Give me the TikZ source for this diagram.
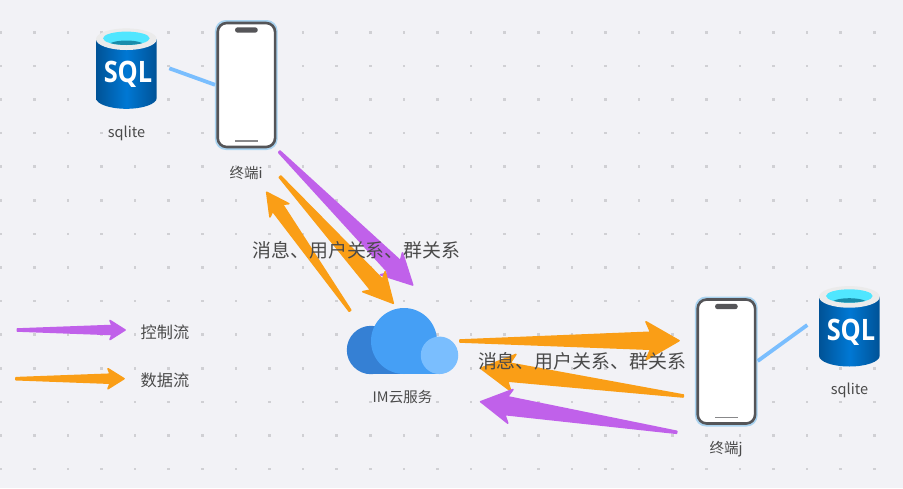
\documentclass[tikz,border=0pt]{standalone}
\usepackage{fontspec}
\setmainfont{Noto Sans CJK SC}
\newfontfamily\sqlfont{Open Sans}
\usetikzlibrary{calc}
\definecolor{bgc}{HTML}{F2F2F6}
\definecolor{dotc}{HTML}{D0D0D4}
\definecolor{purp}{HTML}{C061EA}
\definecolor{oran}{HTML}{FA9E16}
\definecolor{linkc}{HTML}{7ABEFE}
\definecolor{txtc}{HTML}{4A4A4A}
\definecolor{phonec}{HTML}{555558}
\definecolor{halo}{HTML}{A9D3F0}
\definecolor{clouda}{HTML}{3580D4}
\definecolor{cloudb}{HTML}{459FF5}
\definecolor{cloudc}{HTML}{7ABEFE}
\definecolor{sqledge}{HTML}{005296}
\definecolor{sqlmid}{HTML}{0078D4}
\definecolor{sqlrim}{HTML}{EBEBEB}
\definecolor{sqlcyan}{HTML}{50E6FF}
\definecolor{sqlteal}{HTML}{198CAA}
\tikzset{
  small label/.style={text=txtc,font=\fontsize{14.5}{16}\selectfont,inner sep=0pt},
  legend label/.style={text=txtc,font=\fontsize{16.2}{18}\selectfont,inner sep=0pt},
  big label/.style={text=txtc,font=\fontsize{18.9}{21}\selectfont,inner sep=0pt},
  phone halo/.style={fill=halo,rounded corners=11pt,minimum width=62.7pt,minimum height=130pt,inner sep=0pt},
  phone body/.style={fill=white,draw=phonec,line width=2.6pt,rounded corners=9pt,minimum width=57.4pt,minimum height=124pt,inner sep=0pt},
  phone pill/.style={fill=phonec,rounded corners=2.6pt,minimum width=22.7pt,minimum height=5.4pt,inner sep=0pt},
  phone bar/.style={fill=phonec!70,minimum width=22.7pt,minimum height=1.4pt,inner sep=0pt},
  link/.style={linkc,line width=3.8pt},
  flowshape/.style={line width=1.6pt,line join=round}
}
% #1 tail, #2 tip, #3 colour, #4 head length, #5 head half width, #6 neck half width
\newcommand\flowarrow[6]{%
  \coordinate (#1base) at ($(#2)!#4pt!(#1)$);
  \coordinate (#1neck) at ($(#2)!#4pt*0.86!(#1)$);
  \fill[#3,draw=#3,flowshape]
    ($(#1)!1pt!90:(#2)$) -- ($(#1neck)!#6pt!90:(#2)$) -- ($(#1base)!#5pt!90:(#2)$)
    -- (#2) -- ($(#1base)!#5pt!-90:(#2)$) -- ($(#1neck)!#6pt!-90:(#2)$)
    -- ($(#1)!1pt!-90:(#2)$) -- cycle;
}
% #1 name, #2 shift
\newcommand\sqlicon[2]{%
  \begin{scope}[shift={(#2)}]
    \shade[left color=sqledge,right color=sqledge,middle color=sqlmid]
      (96,39) -- (96,98) arc[start angle=180,end angle=360,x radius=30.35pt,y radius=10.8pt] -- (156.7,39) -- cycle;
    \fill[sqlrim] (126.35,39.2) ellipse[x radius=30.35pt,y radius=10.8pt];
    \fill[sqlcyan] (126.35,38.3) ellipse[x radius=23.3pt,y radius=6.7pt];
    \begin{scope}
      \clip (126.35,38.3) ellipse[x radius=23.3pt,y radius=6.7pt];
      \fill[sqlteal] (126.35,45.5) ellipse[x radius=18pt,y radius=5pt];
    \end{scope}
    \node[text=white,inner sep=0pt,xscale=0.86,font=\sqlfont\bfseries\fontsize{29.5}{30}\selectfont] (#1) at (128,74.5) {SQL};
  \end{scope}
}
% #1 name, #2 shift
\newcommand\phoneicon[2]{%
  \begin{scope}[shift={(#2)}]
    \node[phone halo] (#1halo) at (246.3,85) {};
    \node[phone body] (#1) at (246.4,85) {};
    \node[phone pill] (#1pill) at (246.4,30) {};
    \node[phone bar] (#1bar) at (246.4,141) {};
  \end{scope}
}
\begin{document}
\begin{tikzpicture}[x=1pt,y=-1pt]
\useasboundingbox (0,0) rectangle (903,488);
\fill[bgc] (0,0) rectangle (903,488);
% dotted grid
\foreach \i in {0,...,26}{\foreach \j in {0,...,14}{
  \fill[dotc] ({0.7+33.6*\i-1.3},{-1.3+33.6*\j-1.3}) rectangle ++(2.6,2.6);
}}
% icons
\sqlicon{sqli}{0,0}
\sqlicon{sqlj}{723,257.7}
\phoneicon{termi}{0,0}
\phoneicon{termj}{480,276.5}
% links
\coordinate (li) at (169.3,68.3);
\coordinate (lj) at (807.3,325);
\coordinate (liend) at (215,84.8);
\coordinate (ljend) at (757.7,361);
\draw[link] (li) -- (liend);
\draw[link] (lj) -- (ljend);
% cloud
\fill[clouda] (371,350) circle[radius=24.2pt];
\fill[clouda] (371,340) rectangle (405,374.1);
\fill[cloudb] (404,341) circle[radius=33pt];
\fill[cloudb] (404,350) rectangle (440,374.1);
\fill[cloudc] (439.5,355.3) circle[radius=18.75pt];
% flow arrows
\coordinate (pa) at (279.3,151.7); \coordinate (pab) at (412.7,285);
\coordinate (oa) at (280,176.7);   \coordinate (oab) at (393.3,303.3);
\coordinate (ob) at (350,310.7);   \coordinate (obb) at (266.7,192.3);
\coordinate (oc) at (460,341);     \coordinate (ocb) at (679,340.7);
\coordinate (od) at (683.3,396);   \coordinate (odb) at (480.7,368.3);
\coordinate (pb) at (676.7,432.3); \coordinate (pbb) at (480.7,401.7);
\coordinate (lp) at (17.3,330);    \coordinate (lpb) at (125,330);
\coordinate (lo) at (16,378.7);    \coordinate (lob) at (124,378.7);
\flowarrow{pa}{pab}{purp}{30}{15.5}{8.5}
\flowarrow{oa}{oab}{oran}{29}{15}{8}
\flowarrow{ob}{obb}{oran}{22}{11.5}{6}
\flowarrow{oc}{ocb}{oran}{33}{19}{8.5}
\flowarrow{od}{odb}{oran}{33}{18.5}{9}
\flowarrow{pb}{pbb}{purp}{30}{17}{9}
\flowarrow{lp}{lpb}{purp}{15}{9.5}{4.5}
\flowarrow{lo}{lob}{oran}{16}{10}{4.5}
% labels
\node[small label] (lsi) at (126.5,133) {sqlite};
\node[small label] (lsj) at (849.5,390.5) {sqlite};
\node[small label] (lti) at (246,172.5) {终端i};
\node[small label] (ltj) at (726,449.5) {终端j};
\node[small label] (lim) at (402.5,396.5) {IM云服务};
\node[legend label] (lc) at (165,332) {控制流};
\node[legend label] (ld) at (165,380.5) {数据流};
\node[big label] (ba) at (356.5,250) {消息、用户关系、群关系};
\node[big label] (bb) at (582,361) {消息、用户关系、群关系};
\end{tikzpicture}
\end{document}
